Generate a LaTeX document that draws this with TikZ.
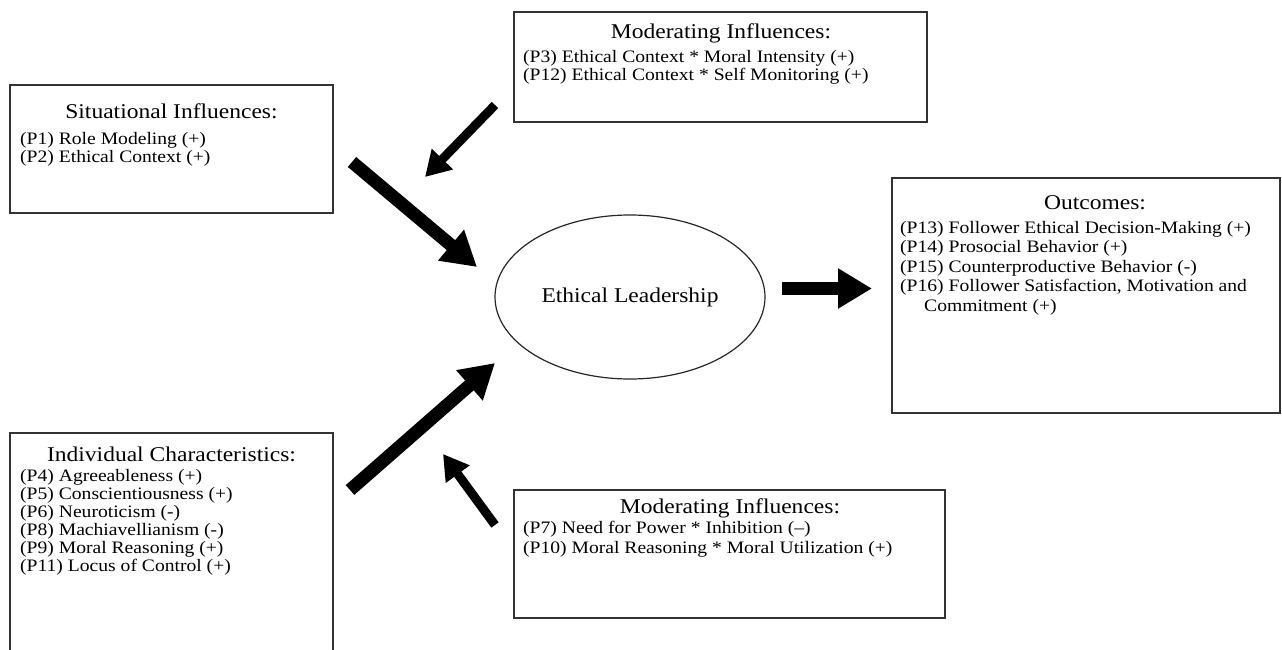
\documentclass[tikz,border=0pt]{standalone}
\usepackage{fontspec}
\setmainfont[FakeStretch=1.12]{Liberation Serif}
\usetikzlibrary{arrows.meta,shapes.geometric}
\begin{document}
\begin{tikzpicture}[x=1pt,y=-1pt,
            box/.style={draw=black!80,line width=1.6pt,inner sep=0pt},
            ttl/.style={anchor=base,inner sep=0pt,font=\fontsize{21}{24}\selectfont},
            itm/.style={anchor=base west,inner sep=0pt,font=\fontsize{17.5}{20}\selectfont},
            bigarr/.style={line width=13pt,-{Triangle[length=34pt,width=38pt]}},
            smallarr/.style={line width=9pt,-{Triangle[length=25pt,width=28pt]}}]
            \useasboundingbox (0,0) rectangle (1282,650);
            % khung
            \node[box,minimum width=323pt,minimum height=128pt] (sit) at (171.5,149) {};
            \node[box,minimum width=413pt,minimum height=110pt] (modtop) at (720.5,67) {};
            \node[box,minimum width=388pt,minimum height=235pt] (out) at (1086,295.5) {};
            \node[box,minimum width=323pt,minimum height=240pt] (ind) at (171.5,553) {};
            \node[box,minimum width=431pt,minimum height=128pt] (modbot) at (729.5,554) {};
            \node[draw=black!85,line width=1.2pt,ellipse,minimum width=270pt,minimum height=164pt,
                font=\fontsize{21}{24}\selectfont] (lead) at (630,297) {Ethical Leadership};
            \path
            (171.5,119) node[ttl] (sitT) {Situational Influences:} % <<< tình huống
            (20,145) node[itm] (p1) {(P1) Role Modeling (+)}
            ++(0,17.5) node[itm] (p2) {(P2) Ethical Context (+)}
            (721,39) node[ttl] (modtopT) {Moderating Influences:} % <<< điều tiết 1
            (523,63) node[itm] (p3) {(P3) Ethical Context * Moral Intensity (+)}
            ++(0,18) node[itm] (p12) {(P12) Ethical Context * Self Monitoring (+)}
            (1095,209) node[ttl] (outT) {Outcomes:} % <<< kết quả
            (900,233) node[itm] (p13) {(P13) Follower Ethical Decision-Making (+)}
            ++(0,19.5) node[itm] (p14) {(P14) Prosocial Behavior (+)}
            ++(0,19.5) node[itm] (p15) {(P15) Counterproductive Behavior (-)}
            ++(0,19.5) node[itm] (p16) {(P16) Follower Satisfaction, Motivation and}
            ++(24,19.5) node[itm] (p16b) {Commitment (+)}
            (171.5,461) node[ttl] (indT) {Individual Characteristics:} % <<< cá nhân
            (20,481) node[itm] (p4) {(P4) Agreeableness (+)}
            ++(0,18) node[itm] (p5) {(P5) Conscientiousness (+)}
            ++(0,18) node[itm] (p6) {(P6) Neuroticism (-)}
            ++(0,18) node[itm] (p8) {(P8) Machiavellianism (-)}
            ++(0,18) node[itm] (p9) {(P9) Moral Reasoning (+)}
            ++(0,18) node[itm] (p11) {(P11) Locus of Control (+)}
            (730,513) node[ttl] (modbotT) {Moderating Influences:} % <<< điều tiết 2
            (523,533) node[itm] (p7) {(P7) Need for Power * Inhibition (--)}
            ++(0,20) node[itm] (p10) {(P10) Moral Reasoning * Moral Utilization (+)};
            % mũi tên
            \coordinate (sitA) at (352,162);
            \coordinate (sitB) at (477,267);
            \coordinate (modtopA) at (495,105);
            \coordinate (modtopB) at (425,177);
            \coordinate (indA) at (350,490);
            \coordinate (indB) at (495,363);
            \coordinate (modbotA) at (495,525);
            \coordinate (modbotB) at (443,454);
            \coordinate (outA) at (782,288.5);
            \coordinate (outB) at (872,288.5);
            \begin{scope}[black]
                \draw[bigarr] (sitA)--(sitB);
                \draw[smallarr] (modtopA)--(modtopB);
                \draw[bigarr] (indA)--(indB);
                \draw[smallarr] (modbotA)--(modbotB);
                \draw[bigarr] (outA)--(outB);
            \end{scope}
        \end{tikzpicture}
\end{document}
